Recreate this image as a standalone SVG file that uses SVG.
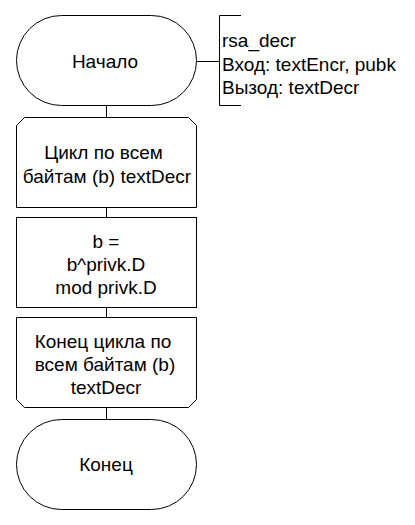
<svg xmlns="http://www.w3.org/2000/svg" width="415" height="525" viewBox="0 0 415 525">
<style>
.s{fill:#fff;stroke:#000;stroke-width:1}
.l{fill:none;stroke:#000;stroke-width:1}
text{font-family:"Liberation Sans",Arial,sans-serif;font-size:19px;fill:#000}
.c{text-anchor:middle}
</style>
<rect width="415" height="525" fill="#fff"/>
<g id="connectors">
<path class="l" d="M106.5 105V117M106.5 207V217M106.5 307V317M106.5 407V419M196 61.5H219"/>
</g>
<g id="start">
<rect class="s" x="16.5" y="15.5" width="180" height="90" rx="45" ry="45"/>
<text class="c" x="105" y="68">Начало</text>
</g>
<g id="comment">
<path class="l" d="M241 15.5H219.5V105.5H241"/>
<text x="222" y="47">rsa_decr</text>
<text x="222" y="71">Вход: textEncr, pubk</text>
<text x="222" y="94">Вызод: textDecr</text>
</g>
<g id="loopstart">
<path class="s" d="M24.5 117.5H188.5L196.5 125.5V207.5H16.5V125.5Z"/>
<text class="c" x="103.5" y="159">Цикл по всем</text>
<text class="c" x="107" y="183">байтам (b) textDecr</text>
</g>
<g id="process">
<rect class="s" x="16.5" y="217.5" width="180" height="90"/>
<text class="c" x="106" y="248">b =</text>
<text class="c" x="106" y="271">b^privk.D</text>
<text class="c" x="106" y="294">mod privk.D</text>
</g>
<g id="loopend">
<path class="s" d="M16.5 317.5H196.5V399.5L188.5 407.5H24.5L16.5 399.5Z"/>
<text class="c" x="103" y="348">Конец цикла по</text>
<text class="c" x="105" y="371">всем байтам (b)</text>
<text class="c" x="106" y="394">textDecr</text>
</g>
<g id="end">
<rect class="s" x="16.5" y="419.5" width="180" height="90" rx="45" ry="45"/>
<text class="c" x="106" y="471">Конец</text>
</g>
</svg>
